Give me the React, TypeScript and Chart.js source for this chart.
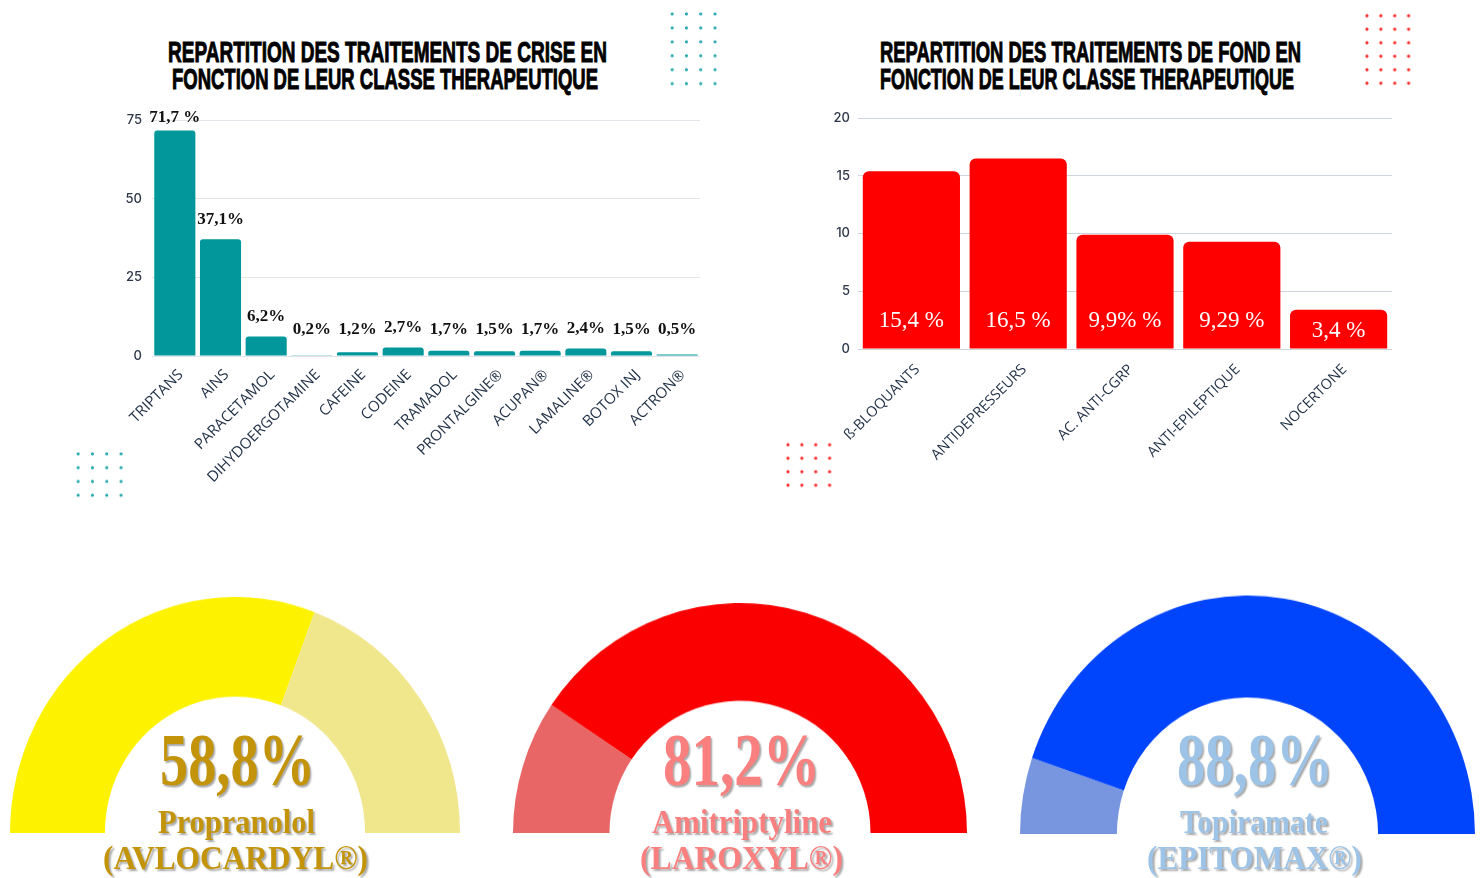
import React, { useEffect, useLayoutEffect, useRef } from 'react';
import { Chart, registerables } from 'chart.js';

Chart.register(...registerables);

// ---------- DATA ----------
const crisisCategories = ['TRIPTANS', 'AINS', 'PARACETAMOL', 'DIHYDOERGOTAMINE', 'CAFEINE', 'CODEINE', 'TRAMADOL', 'PRONTALGINE®', 'ACUPAN®', 'LAMALINE®', 'BOTOX INJ', 'ACTRON®'];
const crisisValues = [71.7, 37.1, 6.2, 0.2, 1.2, 2.7, 1.7, 1.5, 1.7, 2.4, 1.5, 0.5];
const crisisLabels = ['71,7 %', '37,1%', '6,2%', '0,2%', '1,2%', '2,7%', '1,7%', '1,5%', '1,7%', '2,4%', '1,5%', '0,5%'];
const crisisTicks = [0, 25, 50, 75];
const crisisTitle = ['REPARTITION DES TRAITEMENTS DE CRISE EN', 'FONCTION DE LEUR CLASSE THERAPEUTIQUE'];

const fondCategories = ['ß-BLOQUANTS', 'ANTIDEPRESSEURS', 'AC. ANTI-CGRP', 'ANTI-EPILEPTIQUE', 'NOCERTONE'];
const fondValues = [15.4, 16.5, 9.9, 9.29, 3.4];
const fondLabels = ['15,4 %', '16,5 %', '9,9% %', '9,29 %', '3,4 %'];
const fondTicks = [0, 5, 10, 15, 20];
const fondTitle = ['REPARTITION DES TRAITEMENTS DE FOND EN', 'FONCTION DE LEUR CLASSE THERAPEUTIQUE'];

// gauge arcs (first slice starts at the left end)
const gaugeValues = [
  [61.5, 38.5],
  [18.8, 81.2],
  [10.4, 89.6],
];
const gaugePercentLabels = ['58,8%', '81,2%', '88,8%'];
const gaugeDrugs = ['Propranolol', 'Amitriptyline', 'Topiramate'];
const gaugeBrands = ['(AVLOCARDYL®)', '(LAROXYL®)', '(EPITOMAX®)'];

// ---------- STYLES ----------
const TEAL = '#01979b';
const RED = '#ff0000';
const gaugeColors = [
  ['#fdf200', '#f0e68c'],
  ['#e96666', '#fa0000'],
  ['#7896e0', '#0044fb'],
];
const gaugeTextColors = ['#c3940a', '#fa8080', '#9dc3e6'];
const gaugeLayout = [
  { cx: 235, r: 225, sy: 1.049, cutout: '57.8%', pct: [160, 155], drug: [158, 157], brand: [103, 265] },
  { cx: 740, r: 227, sy: 1.013, cutout: '57.5%', pct: [663, 157], drug: [652, 180], brand: [640, 203] },
  { cx: 1247.5, r: 227.5, sy: 1.046, cutout: '57.4%', pct: [1177, 156], drug: [1180, 148], brand: [1147, 215] },
];

const SANS_TICK = "Inter, 'Open Sans', sans-serif";
const LABEL_FONT = "'Open Sans', 'Noto Sans', sans-serif";
const SERIF = "'Liberation Serif', 'DejaVu Serif', serif";
const TITLE_FONT = "'Liberation Sans Narrow', 'Liberation Sans', Arial, sans-serif";

// ---------- plugin for value labels ----------
const valueLabelPlugin = {
  id: 'valueLabels',
  afterDatasetsDraw(chart: any, _args: any, opts: any) {
    if (!opts || !opts.labels) return;
    const { ctx, chartArea } = chart;
    const meta = chart.getDatasetMeta(0);
    const zeroY = chart.scales.y.getPixelForValue(0);
    ctx.save();
    ctx.font = opts.font;
    ctx.fillStyle = opts.color;
    ctx.textAlign = 'center';
    ctx.textBaseline = 'middle';
    meta.data.forEach((bar: any, i: number) => {
      let y: number;
      if (opts.mode === 'above') {
        y = Math.max(chartArea.top - 2, Math.min(bar.y - 20, zeroY - 26));
      } else {
        y = Math.max(zeroY - 28, bar.y + 21);
      }
      ctx.fillText(opts.labels[i], bar.x, y);
    });
    ctx.restore();
  },
};

type BarProps = {
  categories: string[];
  values: number[];
  labels: string[];
  ticks: number[];
  color: string;
  left: number; top: number; width: number; height: number;
  padTop: number; padRight: number; yWidth: number; xHeight: number;
  barPct: number; radius: number; gridColor: string;
  labelMode: string; labelFont: string; labelColor: string; xFontSize: number; xPad: number; yPad: number; xShift: number;
};

function BarChart(p: BarProps) {
  const ref = useRef<HTMLCanvasElement>(null);
  useEffect(() => {
    if (!ref.current) return;
    const chart = new Chart(ref.current, {
      type: 'bar',
      data: {
        labels: p.categories,
        datasets: [
          {
            data: p.values,
            backgroundColor: p.color,
            borderRadius: p.radius,
            borderSkipped: 'start',
            barPercentage: p.barPct,
            categoryPercentage: 1,
          },
        ],
      },
      options: {
        animation: false,
        responsive: true,
        maintainAspectRatio: false,
        layout: { padding: { top: p.padTop, right: p.padRight, left: 0, bottom: 0 } },
        plugins: {
          legend: { display: false },
          tooltip: { enabled: false },
          valueLabels: { labels: p.labels, mode: p.labelMode, font: p.labelFont, color: p.labelColor },
        } as any,
        scales: {
          x: {
            grid: { display: false },
            border: { display: false },
            ticks: {
              autoSkip: false,
              minRotation: 45,
              maxRotation: 45,
              padding: p.xPad,
              labelOffset: p.xShift,
              color: '#1f2f45',
              font: { family: LABEL_FONT, size: p.xFontSize, weight: 500 as any },
            },
            afterFit(s: any) { s.height = p.xHeight; },
          },
          y: {
            min: 0,
            max: p.ticks[p.ticks.length - 1],
            afterBuildTicks(s: any) { s.ticks = p.ticks.map((v) => ({ value: v })); },
            grid: { color: p.gridColor, drawTicks: false, lineWidth: 1 },
            border: { display: false },
            ticks: { padding: p.yPad, color: '#2d3748', font: { family: SANS_TICK, size: 13, weight: 500 as any } },
            afterFit(s: any) { s.width = p.yWidth; },
          },
        },
      },
      plugins: [valueLabelPlugin],
    });
    return () => chart.destroy();
  }, []);
  return (
    <div style={{ position: 'absolute', left: p.left, top: p.top, width: p.width, height: p.height }}>
      <canvas ref={ref} />
    </div>
  );
}

function Gauge({ index }: { index: number }) {
  const ref = useRef<HTMLCanvasElement>(null);
  const g = gaugeLayout[index];
  useEffect(() => {
    if (!ref.current) return;
    const chart = new Chart(ref.current, {
      type: 'doughnut',
      data: {
        labels: ['a', 'b'],
        datasets: [{ data: gaugeValues[index], backgroundColor: gaugeColors[index], borderWidth: 0 }],
      },
      options: {
        animation: false,
        responsive: true,
        maintainAspectRatio: false,
        circumference: 180,
        rotation: -90,
        cutout: g.cutout,
        layout: { padding: 0 },
        plugins: { legend: { display: false }, tooltip: { enabled: false } },
      },
    });
    return () => chart.destroy();
  }, []);
  return (
    <div
      style={{
        position: 'absolute',
        left: g.cx - g.r,
        top: 833 - g.r,
        width: g.r * 2,
        height: g.r,
        transform: `scaleY(${g.sy})`,
        transformOrigin: '50% 100%',
      }}
    >
      <canvas ref={ref} />
    </div>
  );
}

type FitProps = {
  text: string; left: number; width: number; baseline: number; size: number;
  family: string; color: string; k: number; shadow?: string; stroke?: string; weight?: number;
};

function FitText(p: FitProps) {
  const ref = useRef<HTMLSpanElement>(null);
  useLayoutEffect(() => {
    const fit = () => {
      const el = ref.current;
      if (!el) return;
      el.style.transform = 'none';
      const w = el.getBoundingClientRect().width;
      if (w > 0) el.style.transform = `scaleX(${p.width / w})`;
    };
    fit();
    if ((document as any).fonts && (document as any).fonts.ready) (document as any).fonts.ready.then(fit);
  }, []);
  return (
    <span
      ref={ref}
      style={{
        position: 'absolute',
        left: p.left,
        top: p.baseline - p.k * p.size,
        fontSize: p.size,
        lineHeight: `${p.size}px`,
        fontFamily: p.family,
        fontWeight: p.weight ?? 700,
        color: p.color,
        whiteSpace: 'nowrap',
        transformOrigin: '0 0',
        textShadow: p.shadow,
        WebkitTextStroke: p.stroke,
      } as any}
    >
      {p.text}
    </span>
  );
}

function Dots({ left, top, cols, rows, sx, sy, color }: any) {
  return (
    <div
      style={{
        position: 'absolute',
        left: left - sx / 2,
        top: top - sy / 2,
        width: cols * sx,
        height: rows * sy,
        backgroundImage: `radial-gradient(circle, ${color} 1.2px, rgba(255,255,255,0) 1.9px)`,
        backgroundSize: `${sx}px ${sy}px`,
      }}
    />
  );
}

export default function App() {
  const shadow = '2px 2px 2px rgba(0,0,0,0.35)';
  return (
    <div style={{ position: 'absolute', left: 0, top: 0, width: 1484, height: 878, overflow: 'hidden', background: '#fff' }}>
      {/* decorative dots */}
      <Dots left={672.3} top={14} cols={4} rows={6} sx={14.3} sy={13.95} color="#2aa9b0" />
      <Dots left={1367.3} top={16} cols={4} rows={6} sx={13.9} sy={13.5} color="#ff2a2a" />
      <Dots left={77.7} top={454.3} cols={4} rows={4} sx={14.3} sy={13.8} color="#2aa9b0" />
      <Dots left={788.3} top={444.3} cols={4} rows={4} sx={13.9} sy={13.5} color="#ff2a2a" />

      {/* titles */}
      <FitText text={crisisTitle[0]} left={168} width={439} baseline={62} size={30} k={0.8465} family={TITLE_FONT} color="#000" stroke="1px #000" />
      <FitText text={crisisTitle[1]} left={172} width={426} baseline={89} size={30} k={0.8465} family={TITLE_FONT} color="#000" stroke="1px #000" />
      <FitText text={fondTitle[0]} left={880} width={421} baseline={62} size={30} k={0.8465} family={TITLE_FONT} color="#000" stroke="1px #000" />
      <FitText text={fondTitle[1]} left={880} width={414} baseline={89} size={30} k={0.8465} family={TITLE_FONT} color="#000" stroke="1px #000" />

      <BarChart
        categories={crisisCategories}
        values={crisisValues}
        labels={crisisLabels}
        ticks={crisisTicks}
        color={TEAL}
        left={100} top={100} width={604} height={400}
        padTop={20} padRight={4} yWidth={52} xHeight={144}
        barPct={0.9} radius={3} gridColor="#e1e5e9"
        labelMode="above" labelFont={`bold 17px ${SERIF}`} labelColor="#111"
        xFontSize={15} xPad={2} yPad={10} xShift={6}
      />
      <BarChart
        categories={fondCategories}
        values={fondValues}
        labels={fondLabels}
        ticks={fondTicks}
        color={RED}
        left={800} top={100} width={600} height={380}
        padTop={18} padRight={8} yWidth={58} xHeight={131}
        barPct={0.91} radius={6} gridColor="#cfd5dc"
        labelMode="inside" labelFont={`23px ${SERIF}`} labelColor="#fff"
        xFontSize={14.5} xPad={4} yPad={8} xShift={6}
      />

      {gaugeLayout.map((g, i) => (
        <React.Fragment key={i}>
          <Gauge index={i} />
          <FitText text={gaugePercentLabels[i]} left={g.pct[0]} width={g.pct[1]} baseline={785} size={74} k={0.8375} family={SERIF} color={gaugeTextColors[i]} shadow={shadow} />
          <FitText text={gaugeDrugs[i]} left={g.drug[0]} width={g.drug[1]} baseline={834} size={33} k={0.8375} family={SERIF} color={gaugeTextColors[i]} shadow={shadow} />
          <FitText text={gaugeBrands[i]} left={g.brand[0]} width={g.brand[1]} baseline={870} size={33} k={0.8375} family={SERIF} color={gaugeTextColors[i]} shadow={shadow} />
        </React.Fragment>
      ))}
    </div>
  );
}
